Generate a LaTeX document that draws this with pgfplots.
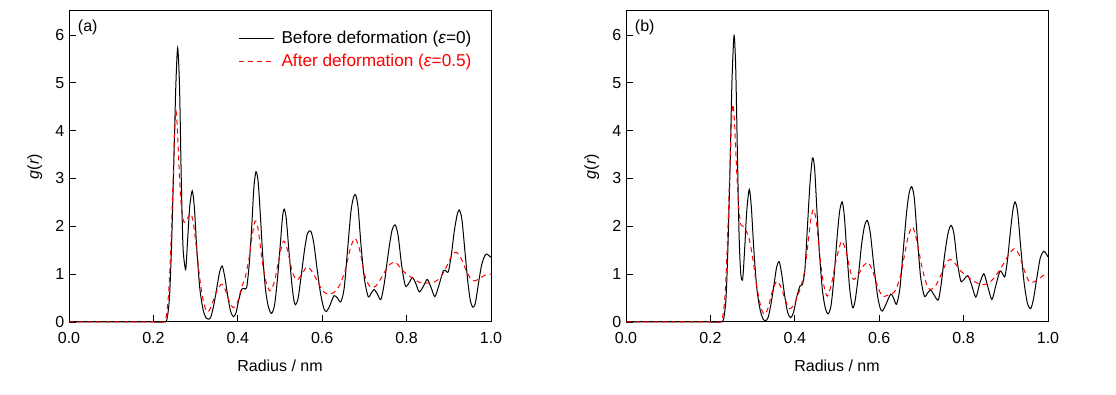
\documentclass[border=0pt]{standalone}
\usepackage{fontspec}
\setmainfont{Liberation Sans}
\usepackage{pgfplots}
\pgfplotsset{compat=1.18}
\usepackage{pgfplotstable}

\pgfplotstableread{
r g
0 0
0.200 0
0.225 0
0.232 0.05
0.238 0.5
0.243 1.6
0.248 3.2
0.253 4.9
0.2575 5.73
0.262 4.9
0.266 3.0
0.270 1.6
0.274 1.2
0.277 1.12
0.281 1.7
0.286 2.4
0.292 2.74
0.297 2.4
0.303 1.5
0.310 0.7
0.318 0.25
0.325 0.08
0.330 0.06
0.336 0.1
0.343 0.35
0.350 0.7
0.357 1.05
0.363 1.17
0.369 0.95
0.376 0.55
0.383 0.22
0.390 0.11
0.396 0.2
0.402 0.45
0.409 0.68
0.415 0.70
0.421 0.72
0.427 1.2
0.433 2.0
0.438 2.8
0.443 3.14
0.448 2.95
0.453 2.3
0.459 1.4
0.466 0.65
0.473 0.3
0.480 0.18
0.487 0.35
0.494 0.9
0.501 1.65
0.506 2.2
0.510 2.36
0.515 2.15
0.521 1.5
0.528 0.8
0.533 0.45
0.537 0.36
0.543 0.5
0.550 0.95
0.558 1.5
0.565 1.85
0.573 1.90
0.580 1.65
0.588 1.1
0.596 0.6
0.604 0.28
0.610 0.22
0.617 0.32
0.628 0.55
0.636 0.50
0.644 0.42
0.652 0.7
0.660 1.5
0.668 2.3
0.674 2.6
0.679 2.66
0.685 2.4
0.692 1.6
0.700 0.9
0.709 0.53
0.716 0.6
0.723 0.68
0.731 0.58
0.739 0.47
0.747 0.8
0.756 1.4
0.765 1.9
0.773 2.03
0.780 1.8
0.788 1.2
0.795 0.82
0.799 0.74
0.806 0.82
0.814 0.93
0.822 0.8
0.830 0.63
0.840 0.75
0.849 0.89
0.858 0.72
0.867 0.53
0.876 0.75
0.887 1.07
0.894 1.06
0.899 1.05
0.906 1.4
0.913 1.9
0.920 2.25
0.925 2.34
0.931 2.15
0.938 1.5
0.945 0.85
0.951 0.45
0.957 0.31
0.963 0.4
0.971 0.85
0.978 1.2
0.985 1.38
0.990 1.42
0.996 1.38
1.000 1.35
}\Ablack

\pgfplotstableread{
r g
0 0
0.200 0
0.222 0
0.230 0.1
0.236 0.6
0.241 1.5
0.246 2.8
0.250 3.9
0.2535 4.41
0.257 4.0
0.262 3.0
0.267 2.3
0.272 2.1
0.276 2.1
0.283 2.2
0.289 2.27
0.295 2.05
0.302 1.55
0.310 0.9
0.318 0.45
0.326 0.22
0.333 0.25
0.342 0.45
0.352 0.68
0.362 0.79
0.370 0.68
0.379 0.45
0.389 0.30
0.398 0.38
0.409 0.72
0.418 0.95
0.427 1.35
0.434 1.8
0.441 2.11
0.448 1.95
0.456 1.4
0.465 0.9
0.476 0.65
0.487 0.85
0.497 1.3
0.508 1.69
0.518 1.5
0.529 1.05
0.540 0.88
0.552 1.0
0.563 1.15
0.572 1.1
0.583 0.95
0.595 0.74
0.605 0.62
0.615 0.58
0.628 0.62
0.642 0.78
0.655 1.1
0.667 1.55
0.678 1.75
0.689 1.5
0.700 1.0
0.713 0.74
0.727 0.75
0.742 0.95
0.757 1.18
0.773 1.25
0.788 1.1
0.803 0.98
0.816 0.91
0.828 0.84
0.840 0.81
0.853 0.82
0.867 0.84
0.882 0.95
0.897 1.2
0.908 1.4
0.917 1.46
0.928 1.35
0.940 1.1
0.952 0.9
0.962 0.86
0.975 0.92
0.988 0.99
1.000 1.0
}\Ared

\pgfplotstableread{
r g
0 0
0.200 0
0.224 0
0.231 0.05
0.237 0.5
0.242 1.7
0.247 3.4
0.251 5.0
0.256 5.99
0.260 5.3
0.264 3.5
0.268 1.8
0.272 1.0
0.2765 0.90
0.281 1.5
0.286 2.3
0.292 2.77
0.297 2.4
0.303 1.5
0.310 0.7
0.318 0.25
0.325 0.06
0.331 0.03
0.337 0.1
0.344 0.4
0.351 0.8
0.357 1.15
0.363 1.26
0.369 1.0
0.376 0.55
0.383 0.2
0.390 0.09
0.397 0.2
0.404 0.5
0.412 0.75
0.418 0.78
0.424 1.1
0.430 2.0
0.436 2.9
0.442 3.43
0.447 3.2
0.452 2.4
0.458 1.5
0.465 0.7
0.472 0.3
0.479 0.17
0.486 0.35
0.493 0.95
0.500 1.75
0.506 2.3
0.512 2.51
0.517 2.25
0.523 1.5
0.530 0.7
0.537 0.30
0.543 0.45
0.551 1.0
0.558 1.6
0.565 2.0
0.572 2.12
0.579 1.85
0.587 1.2
0.596 0.55
0.603 0.27
0.608 0.23
0.615 0.35
0.627 0.58
0.634 0.5
0.641 0.37
0.649 0.7
0.657 1.5
0.665 2.3
0.671 2.7
0.677 2.83
0.683 2.6
0.690 1.8
0.698 0.95
0.707 0.54
0.714 0.6
0.722 0.67
0.731 0.55
0.740 0.46
0.747 0.8
0.755 1.4
0.763 1.85
0.770 2.02
0.777 1.85
0.785 1.25
0.792 0.9
0.795 0.84
0.802 0.9
0.810 0.97
0.818 0.8
0.829 0.52
0.838 0.8
0.848 1.01
0.857 0.75
0.867 0.47
0.876 0.75
0.886 1.06
0.893 1.0
0.898 0.95
0.904 1.3
0.911 1.9
0.917 2.35
0.922 2.51
0.928 2.3
0.935 1.6
0.943 0.85
0.951 0.4
0.959 0.28
0.966 0.5
0.974 0.95
0.982 1.35
0.990 1.48
0.996 1.42
1.000 1.36
}\Bblack

\pgfplotstableread{
r g
0 0
0.200 0
0.222 0
0.229 0.1
0.235 0.6
0.240 1.6
0.245 2.9
0.249 4.0
0.253 4.55
0.257 4.2
0.262 3.2
0.267 2.4
0.272 2.04
0.278 2.0
0.285 1.9
0.292 1.73
0.300 1.35
0.308 0.85
0.316 0.45
0.323 0.22
0.329 0.16
0.337 0.3
0.347 0.65
0.357 0.85
0.366 0.75
0.376 0.5
0.384 0.32
0.390 0.28
0.400 0.4
0.414 0.73
0.424 1.1
0.432 1.7
0.438 2.15
0.444 2.35
0.451 2.1
0.459 1.4
0.468 0.8
0.477 0.54
0.487 0.8
0.498 1.3
0.511 1.69
0.522 1.45
0.532 1.05
0.539 0.89
0.550 0.98
0.562 1.17
0.574 1.24
0.585 1.05
0.596 0.75
0.607 0.54
0.620 0.56
0.637 0.64
0.650 0.95
0.660 1.4
0.669 1.80
0.679 1.99
0.689 1.7
0.700 1.2
0.710 0.85
0.720 0.68
0.733 0.75
0.747 1.0
0.758 1.22
0.768 1.31
0.780 1.22
0.792 1.08
0.803 0.99
0.820 0.88
0.835 0.8
0.847 0.78
0.860 0.82
0.875 0.95
0.890 1.15
0.905 1.38
0.915 1.5
0.922 1.53
0.932 1.4
0.943 1.1
0.953 0.88
0.961 0.82
0.975 0.88
0.990 0.98
1.000 1.01
}\Bred

\pgfplotsset{
  rdf/.style={
    scale only axis,
    width=316.5pt, height=233.25pt,
    anchor=south west,
    xmin=0, xmax=1, ymin=0, ymax=6.5,
    xtick={0,0.2,0.4,0.6,0.8,1.0},
    ytick={0,1,2,3,4,5,6},
    xticklabel style={/pgf/number format/fixed, /pgf/number format/fixed zerofill, /pgf/number format/precision=1, yshift=-4.5pt},
    /pgf/number format/assume math mode=true,
    tick align=inside,
    xtick pos=bottom, ytick pos=left,
    major tick length=5pt,
    tick style={black, line width=0.6pt},
    axis line style={line width=0.75pt},
    minor tick num=0,
    font=\fontsize{12}{14}\selectfont,
    xlabel={Radius / nm},
    ylabel={\textit{g}(\textit{r})},
    xlabel style={at={(axis description cs:0.5,-0.1415)}, anchor=center},
    ylabel style={at={(axis description cs:-0.081,0.5)}, anchor=center},
    clip=false,
  },
  blkline/.style={black, line width=0.75pt, smooth, tension=0.45},
  redline/.style={red, line width=0.75pt, dash pattern=on 3.75pt off 3pt, smooth, tension=0.45},
}

\begin{document}
\begin{tikzpicture}
\useasboundingbox (0,0) rectangle (837pt,296.25pt);
\begin{axis}[rdf, at={(51.75pt,54.75pt)},
  legend style={at={(0.97,0.953)}, anchor=north east, draw=none, fill=none,
    font=\fontsize{12.9}{15}\selectfont, row sep=2.5pt},
  legend cell align=left,
  legend image code/.code={\draw[#1] (0pt,0pt) -- (26pt,0pt); \path (29.5pt,0pt);},
]
\addplot[blkline] table[x=r,y=g] {\Ablack};
\addlegendentry{Before deformation (\textit{ε}=0)}
\addplot[redline] table[x=r,y=g] {\Ared};
\addlegendentry{\textcolor{red}{After deformation (\textit{ε}=0.5)}}
\node[anchor=north west] at (axis description cs:0.01,0.985) {(a)};
\end{axis}
\begin{axis}[rdf, at={(469.5pt,54.75pt)}]
\addplot[blkline] table[x=r,y=g] {\Bblack};
\addplot[redline] table[x=r,y=g] {\Bred};
\node[anchor=north west] at (axis description cs:0.01,0.985) {(b)};
\end{axis}
\end{tikzpicture}
\end{document}
